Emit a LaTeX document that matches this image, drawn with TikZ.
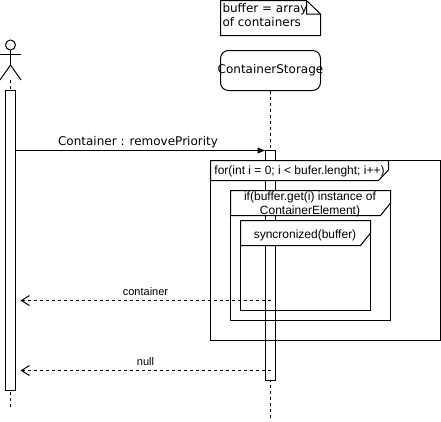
\documentclass[tikz,border=0pt]{standalone}
\usepackage{fontspec}
\setmainfont{Liberation Sans}
\newfontfamily\dejafont{DejaVu Sans}
\usetikzlibrary{arrows.meta}
\tikzset{
  wide/.style={font=\dejafont\fontsize{9}{10.5}\selectfont,inner sep=0pt},
  plain/.style={font=\fontsize{9}{10.5}\selectfont,inner sep=0pt,align=center},
  small/.style={font=\fontsize{8.25}{9}\selectfont,inner sep=0pt},
  bar/.style={draw,fill=white,inner sep=0pt,minimum width=7.5pt},
  life/.style={dashed,dash pattern=on 2.25pt off 2.25pt},
  ret/.style={life,-{Straight Barb[length=6pt,width=7.5pt]}},
  tab/.style={draw,fill=white}
}
\begin{document}
\begin{tikzpicture}[x=0.75pt,y=-0.75pt,line width=0.75pt]
\useasboundingbox (0,0) rectangle (441,421);
% actor
\draw (10.5,45) circle (5);
\draw (10.5,50)--(10.5,65);
\draw (0,54)--(21,54);
\draw (0,80)--(10.5,65)--(21,80);
\coordinate (actorfoot) at (10.5,80);
\coordinate (actorend) at (10.5,410);
\coordinate (storageend) at (270.5,420);
% heads
\node[wide,draw,rounded corners=6pt,minimum width=75pt,minimum height=30pt] (storage) at (270.5,70.5) {\makebox[0pt]{ContainerStorage}};
% lifelines
\draw[life] (actorfoot)--(actorend);
\draw[life] (storage)--(storageend);
% bars
\node[bar,minimum height=225pt] (actorbar) at (10.5,240.5) {};
\node[bar,minimum height=172.5pt] (storagebar) at (270.5,265.5) {};
% note
\draw (320.5,14)--(306.5,0.5)--(220.5,0.5)--(220.5,35.5)--(320.5,35.5)--(320.5,14)--(306.5,14)--(306.5,0.5);
\node[wide,anchor=north west,align=left] (note) at (222,3) {buffer = array\\of containers};
% messages
\coordinate (callstart) at (15.5,150.5);
\coordinate (callend) at (265.5,150.5);
\coordinate (containerstart) at (270.5,300.5);
\coordinate (containerend) at (20.5,300.5);
\coordinate (nullstart) at (270.5,370.5);
\coordinate (nullend) at (20.5,370.5);
\draw[-{Latex[length=6pt,width=5pt]}] (callstart)--(callend);
\draw[ret] (containerstart)--(containerend);
\draw[ret] (nullstart)--(nullend);
\node[wide] (calllabel) at (138,142) {Container : removePriority};
\node[small] (containerlabel) at (145.5,291.5) {container};
\node[small] (nulllabel) at (145.5,361.5) {null};
% frames
\draw (210.5,160.5) rectangle (440.5,340.5);
\draw[tab] (210.5,160.5)--(388.5,160.5)--(388.5,170)--(378.5,180.5)--(210.5,180.5)--cycle;
\node[plain] (forlabel) at (299.5,171.5) {for(int i = 0; i < bufer.lenght; i++)};
\draw (230.5,190.5) rectangle (390.5,320.5);
\draw[tab] (230.5,190.5)--(390.5,190.5)--(390.5,203)--(380.5,215.5)--(230.5,215.5)--cycle;
\node[plain] (iflabel) at (310,204.5) {if(buffer.get(i) instance of\\ContainerElement)};
\draw (240.5,220.5) rectangle (370.5,310.5);
\draw[tab] (240.5,220.5)--(370.5,220.5)--(370.5,233)--(360.5,245.5)--(240.5,245.5)--cycle;
\node[plain] (synclabel) at (305,235) {syncronized(buffer)};
\end{tikzpicture}
\end{document}
